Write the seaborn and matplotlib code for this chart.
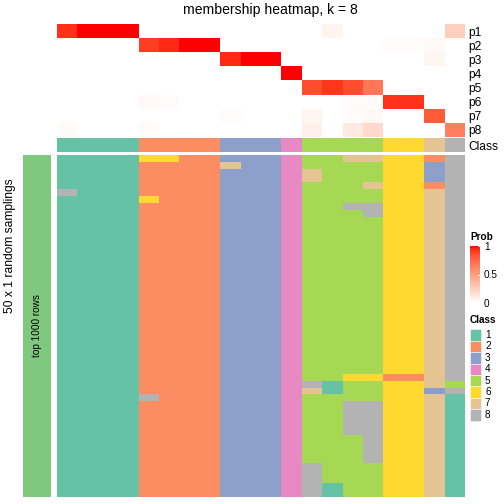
import numpy as np
import pandas as pd
import matplotlib
matplotlib.use("Agg")
import matplotlib.pyplot as plt
import seaborn as sns
from matplotlib.colors import ListedColormap, Normalize
from matplotlib.patches import Rectangle
from matplotlib.cm import ScalarMappable

# ---------------- data ----------------
row_labels = ["p1", "p2", "p3", "p4", "p5", "p6", "p7", "p8"]
classes = [1, 1, 1, 1, 2, 2, 2, 2, 3, 3, 3, 4, 5, 5, 5, 5, 6, 6, 7, 8]
p1 = [0.93, 1, 1, 1, 0, 0, 0, 0, 0, 0, 0, 0, 0, 0.06, 0, 0, 0, 0, 0, 0.25]
p2 = [0, 0, 0, 0, 0.9, 0.95, 1, 1, 0, 0, 0, 0, 0, 0, 0, 0, 0.02, 0.02, 0.03, 0]
p3 = [0, 0, 0, 0, 0, 0, 0, 0, 0.95, 1, 1, 0, 0, 0, 0, 0, 0, 0, 0.05, 0]
p4 = [0, 0, 0, 0, 0, 0, 0, 0, 0, 0, 0, 1, 0, 0, 0, 0, 0, 0, 0, 0]
p5 = [0, 0, 0, 0, 0, 0, 0, 0, 0, 0, 0, 0, 0.85, 0.92, 0.85, 0.68, 0, 0, 0, 0]
p6 = [0, 0, 0, 0, 0.03, 0.02, 0, 0, 0, 0, 0, 0, 0, 0, 0.02, 0.02, 0.93, 0.93, 0, 0]
p7 = [0, 0, 0, 0, 0, 0, 0, 0, 0.02, 0, 0, 0, 0.05, 0, 0.02, 0.04, 0, 0, 0.8, 0]
p8 = [0.02, 0, 0, 0, 0.02, 0, 0, 0, 0, 0, 0, 0, 0.08, 0, 0.12, 0.2, 0, 0, 0, 0.65]
class_labels = ["1", "2", "3", "4", "5", "6", "7", "8"]
n_samplings = 50
# (first row, last row, first column, last column, class), 1-based
deviations = [
    (1, 1, 5, 6, 6), (1, 1, 15, 16, 7), (1, 1, 19, 19, 2),
    (2, 2, 9, 9, 7), (2, 4, 19, 19, 3), (3, 4, 13, 13, 7),
    (5, 5, 16, 16, 7), (5, 5, 19, 19, 2), (6, 6, 1, 1, 8),
    (7, 7, 5, 5, 6), (8, 8, 15, 16, 8), (9, 9, 16, 16, 8),
    (33, 33, 15, 16, 6), (33, 33, 17, 18, 2),
    (34, 34, 13, 13, 8), (34, 35, 14, 14, 1), (34, 34, 20, 20, 5),
    (35, 35, 13, 13, 7), (35, 35, 19, 19, 3), (35, 35, 20, 20, 8),
    (36, 50, 20, 20, 1), (36, 36, 5, 5, 8),
    (37, 41, 15, 16, 8), (42, 45, 16, 16, 8),
    (46, 50, 13, 13, 8), (49, 50, 14, 14, 1),
]

# ---------------- styling ----------------
class_colors = ["#66C2A5", "#FC8D62", "#8DA0CB", "#E78AC3",
                "#A6D854", "#FFD92F", "#E5C494", "#B3B3B3"]
bar_color = "#7FC97F"
plt.rcParams["font.family"] = ["Liberation Sans", "DejaVu Sans"]


def lab_to_rgb(L, a, b):
    fy = (L + 16) / 116
    fx = fy + a / 500
    fz = fy - b / 200
    d = 6 / 29

    def finv(t):
        return np.where(t > d, t ** 3, 3 * d * d * (t - 4 / 29))
    X = 0.95047 * finv(fx)
    Y = 1.0 * finv(fy)
    Z = 1.08883 * finv(fz)
    r = 3.2406 * X - 1.5372 * Y - 0.4986 * Z
    g = -0.9689 * X + 1.8758 * Y + 0.0415 * Z
    bb = 0.0557 * X - 0.2040 * Y + 1.0570 * Z
    out = []
    for c in (r, g, bb):
        c = np.clip(c, 0, 1)
        c = np.where(c <= 0.0031308, 12.92 * c, 1.055 * c ** (1 / 2.4) - 0.055)
        out.append(np.clip(c, 0, 1))
    return np.stack(out, axis=-1)


t = np.linspace(0, 1, 256)
L = 100 + (53.24 - 100) * t
A = 80.09 * t
B = 67.20 * t
prob_cmap = ListedColormap(lab_to_rgb(L, A, B))
class_cmap = ListedColormap(class_colors)

# ---------------- build tables ----------------
mem = pd.DataFrame([p1, p2, p3, p4, p5, p6, p7, p8], index=row_labels)
class_row = pd.DataFrame([classes], index=["Class"])
main = np.tile(np.array(classes), (n_samplings, 1))
for r0, r1, c0, c1, cl in deviations:
    main[r0 - 1:r1, c0 - 1:c1] = cl
main_df = pd.DataFrame(main)
left_bar = pd.DataFrame(np.ones((n_samplings, 1)))

# ---------------- figure ----------------
W = H = 504
fig = plt.figure(figsize=(7, 7), dpi=72)


def pax(x0, y0, x1, y1):
    return fig.add_axes([x0 / W, 1 - y1 / H, (x1 - x0) / W, (y1 - y0) / H])


ax_top = pax(57, 24, 465, 137)
sns.heatmap(mem, ax=ax_top, cmap=prob_cmap, vmin=0, vmax=1, cbar=False,
            xticklabels=False, yticklabels=row_labels)
ax_top.yaxis.tick_right()
ax_top.set_yticklabels(row_labels, rotation=0, fontsize=12)
ax_top.tick_params(axis="y", length=0, pad=3)
ax_top.set_xlabel("")
ax_top.set_ylabel("")

ax_cls = pax(57, 138, 465, 152)
sns.heatmap(class_row, ax=ax_cls, cmap=class_cmap, vmin=0.5, vmax=8.5,
            cbar=False, xticklabels=False, yticklabels=["Class"])
ax_cls.yaxis.tick_right()
ax_cls.set_yticklabels(["Class"], rotation=0, fontsize=12)
ax_cls.tick_params(axis="y", length=0, pad=3)

ax_main = pax(57, 155, 465, 497)
sns.heatmap(main_df, ax=ax_main, cmap=class_cmap, vmin=0.5, vmax=8.5,
            cbar=False, xticklabels=False, yticklabels=False)

ax_left = pax(23, 155, 51, 497)
sns.heatmap(left_bar, ax=ax_left, cmap=ListedColormap([bar_color]),
            cbar=False, xticklabels=False, yticklabels=False)

# colour bar for Prob
cax = pax(470, 246, 480, 303)
cb = fig.colorbar(ScalarMappable(norm=Normalize(0, 1), cmap=prob_cmap),
                  cax=cax, ticks=[0, 0.5, 1])
cb.outline.set_visible(False)
cb.ax.set_yticklabels(["0", "0.5", "1"])
cb.ax.tick_params(direction="in", color="white", length=2, width=1,
                  labelsize=10, pad=4)

# overlay for texts and legend
ov = fig.add_axes([0, 0, 1, 1])
ov.set_xlim(0, W)
ov.set_ylim(H, 0)
ov.set_axis_off()
ov.patch.set_alpha(0)

ov.text(270, 10, "membership heatmap, k = 8", ha="center", va="center",
        fontsize=14)
ov.text(10, 246, "50 x 1 random samplings", rotation=90, ha="center",
        va="center", fontsize=12)
ov.text(37, 326, "top 1000 rows", rotation=90, ha="center", va="center",
        fontsize=10)
ov.text(470, 237, "Prob", fontweight="bold", fontsize=10, ha="left",
        va="center")
ov.text(470, 320, "Class", fontweight="bold", fontsize=10, ha="left",
        va="center")
step = 11.4
for i, (lab, col) in enumerate(zip(class_labels, class_colors)):
    yc = 335 + step * i
    ov.add_patch(Rectangle((470, yc - step / 2), 11, step, facecolor=col,
                           edgecolor="white", linewidth=0.5))
    ov.text(485, yc, lab, fontsize=10, ha="left", va="center")

fig.savefig("out.png", dpi=72)
